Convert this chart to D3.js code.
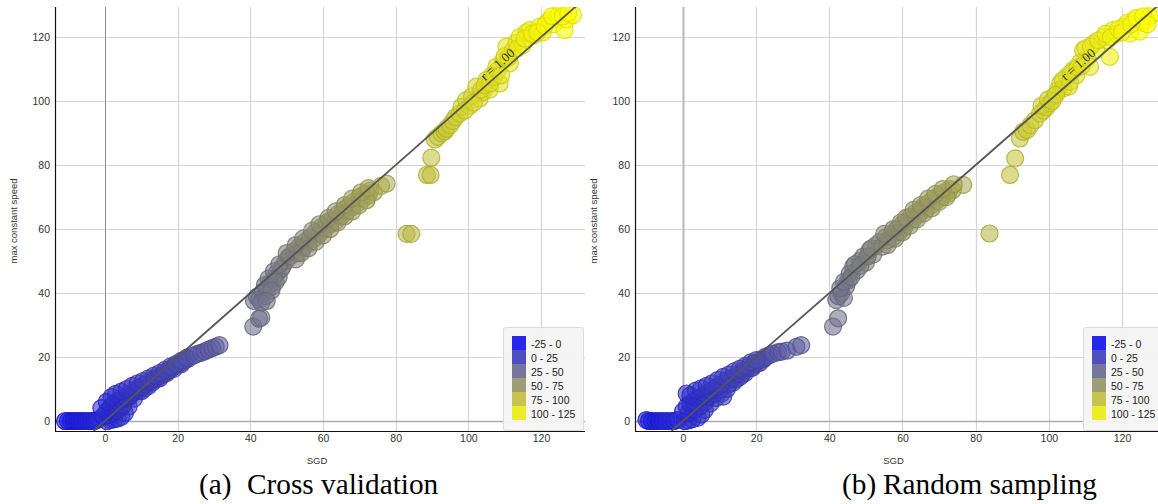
<!DOCTYPE html>
<html>
<head>
<meta charset="utf-8">
<script src="https://cdn.jsdelivr.net/npm/d3@7"></script>
<style>
  html, body { margin: 0; padding: 0; background: #fff; }
  svg { display: block; }
</style>
</head>
<body>
<svg id="chart" width="1158" height="504"></svg>
<script>
// ---- data: [SGD, max constant speed] ----
const cvPoints = [
  [-11,0],[-10.2,0],[-9.4,0],[-8.6,0],[-7.8,0],[-7,0],[-6.2,0],[-5.4,0],[-4.6,0],[-3.8,0],[-3,0],[-2.2,0.3],
  [0.5,0],[1.5,0.3],[2.5,0.5],[3.5,0.8],[4.5,1.3],[5.5,2.5],[6.5,4.5],[8,7],[10,9.3],[12,11],[14,13],[16,14.5],[18,16.2],[20,17.6],[22,19],
  [1,1.8],[2,2.5],[3,3.2],[4,4],[5,5],[6,7],[7,7.8],[8,9],[9.5,9.5],[11,10.3],[13,12],[15,13.3],[17,15],[19,16.3],[21,17.8],
  [-0.5,1.5],[0.5,3],[1.5,4.3],[2.5,5.5],[3.5,6.2],[4.5,6.8],[5.5,7.5],[7,8.6],[8.5,9.8],[9.5,10.5],[11,11.5],[12.5,12.5],[13.5,13.2],[15,14],[16.5,15.2],[17.5,15.8],[19,17],[21,18.3],[23,19.5],
  [-1,4],[0.5,6],[1.8,7.5],[3,8.5],[4.5,9.2],[6,10],[7.5,11],[9,11.8],[10.5,12.5],[12,13.3],[13.5,14.2],[15,15],[16.5,16],[18,17],[19.5,17.8],[21,18.8],[22.5,19.8],
  [24.5,20.5],[25.5,21],[26.5,21.3],[27.5,21.8],[28.5,22.3],[29.5,22.8],[30.5,23.2],[31.5,23.7],
  [40.8,29.5],[42.4,32],[43,32.3],[41,37.5],[41.8,38.8],[42.5,38],[43.5,40.5],[44.2,39],[44.8,41.5],[45.5,43],[46,42],[46.5,44.5],[47.3,46.2],[47.8,45],[48.5,47.5],[49,48.5],[49.8,50],[50.5,51.2],
  [43,37],[44,42.5],[45,44.5],[46.5,46.8],[47,43.5],[48,49],[45.8,40.8],[44.5,37.5],
  [51,51.5],[52,53],[53,52.5],[53.5,54.5],[54.5,54],[55,56],[56,55.5],[56.5,57.5],[57.5,57],[58,59],[59,58.5],[59.5,60.5],[60.5,60],[61,62],[62,61.5],[62.5,63],[63.5,62.5],[64,64.5],[65,64],[65.5,66],[66.5,65.5],[67,67.2],[68,66.8],[68.5,68.5],[69.5,68],[70,70],[71,69.5],[71.5,71],[72.5,70.5],[73,72],[74,71.5],
  [52.5,50.5],[54,52.5],[56,54],[58,56],[60,58],[62,60],[64,62],[66,64],[68,65.5],[70,67.5],[72,69],
  [50,52.5],[52.5,55],[54.5,57],[57,59.5],[59,61.5],[61.5,63.5],[63.5,65.5],[66,67.5],[68,69.5],[70.5,71.5],[72.5,72.8],
  [76,73.5],[77.5,74.2],
  [83,58.5],[84.3,58.5],[88.6,76.9],[89.6,76.9],[89.8,82.3],[90.8,88],[91.6,88.8],[92.6,89.9],[93.5,90.5],[94,91.4],[95,92.5],[95.8,93.8],[96.5,95],[97.6,96.1],[98.1,98.2],[99.4,100.3],[100.4,98.5],[101,101.5],[102.2,104.5],[103.1,100.8],[104,102.8],[105,106.6],[105.9,103.6],[106.5,108],[107.7,110.7],[108.6,105.5],[109.5,112.5],[110.5,117],[111.4,111.8],[112.3,115.9],[113.2,118.2],[114.1,120],[115,117.5],[116,121.5],[116.9,122.2],[118,120.5],[119.6,123.2],[120.5,121.5],[121.5,124.5],[122.4,125.3],[123.5,124],[124.5,126.5],[125,127.4],[126.5,122.2],[127,125.5],[128.8,126.9],
  [99,97],[101.5,99.5],[103.5,103.5],[104.5,105],[106,105.5],[107,107.5],[108,109.5],[109,108],[110,114],[111,113.5],[113.5,116.5],[115.5,119.5],[117.5,121],[119,121.5],[121,123.5],[123,126.5],[126,126.5],[127.5,127.5]
];

const rsPoints = [
  [-10,0.3],[-9.3,0],[-8.5,0],[-7.5,0],[-6.5,0],[-5.5,0],[-4.5,0],[-3.5,0],[-2.5,0],[-1.5,0.3],
  [0.5,0],[1.5,0.2],[2.5,0.5],[4,1],[5,2],[6,3.5],[7.5,5.5],[9,7.2],[10.5,8.5],[11,7.6],[12,10],[13.7,12],[15.5,13.7],[17,15],[18.5,16.5],[20,17.8],[22,19.3],[23.5,20.5],
  [1.5,2.5],[3,3.5],[4.5,4.5],[6,6],[7,7.5],[8.5,8.5],[10,9.8],[12.5,11.5],[14.5,13],[16,14.5],[19,16.7],[21,18.2],
  [0,3],[1,4.5],[2,5.5],[3,6],[4,7],[5,7.5],[6,8.5],[7.5,9.5],[9,10.5],[10.5,11.5],[12,12.8],[13.5,13.5],[15,14.8],[16.5,15.8],[18,17],[19.5,18],[21,19],[22.5,20],
  [1,8.6],[2,8],[3.5,9.5],[5,10.2],[6.5,11],[8,11.8],[9.5,12.8],[11,13.8],[12.5,14.5],[14,15.5],[15.5,16.3],[17,17.2],[18.5,18.3],[20,19],
  [24.6,21],[26,21.5],[27,21.7],[28.5,22],[31,23.2],[32.3,23.7],
  [41,29.5],[42.4,32.1],[41.9,37.8],[42.5,39],[43.3,40],[44,38.5],[44.6,42.1],[45.2,44],[45.6,46.1],[46.5,48.2],[47.5,47],[48.3,50],[49.3,51.4],[50,49.5],[51,53.4],[52,52],[52.8,55],[53.8,56],
  [43,41.5],[44,43.5],[46,45],[47,49],[48.5,48.5],[50.5,51.5],[51.5,54],
  [54.5,54.5],[55.5,57.5],[56,56.5],[57,58.5],[57.5,57.5],[58.5,60],[59,59],[60,61.5],[60.5,60.5],[61.5,62.5],[62,63.8],[63,63],[63.5,65],[64.5,64.5],[65,66],[65.6,66.9],[66.5,66],[67,68],[68,67.5],[68.5,69.5],[69.5,69],[70,70.5],[71,70],[71.5,71.5],[72.5,71],[73,72.5],[73.8,72.2],[76.6,73.8],
  [56,55],[58,57],[60,59],[62,61],[64,63],[66,65],[68,66.5],[70,68.5],[72,70],
  [55,58.5],[57.5,60],[59.5,62],[61,63.5],[63,66],[65,67.5],[67,69.5],[69,71],[71,72.5],[74,74],
  [83.8,58.6],[89.4,76.9],[90.8,82.1],[92.1,88.3],[93,90.4],[94,90.9],[95,92.5],[96.2,94],[97.6,96.1],[98.5,97],[99.3,98],[100.3,99.3],[101.5,101.5],[102.5,103.5],[103.1,105.5],[104,104],[104.9,107.6],[105.5,104.5],[106.7,109.7],[107.5,108],[108.5,112],[109.4,115.9],[110.5,113.5],[111.3,110.7],[112.2,118],[113,116],[114.9,120],[116,119],[116.7,113.8],[117.6,122.2],[118.5,121],[120.4,123.2],[121.5,124.5],[122.2,121.1],[123.5,125.5],[124.9,121.7],[125.5,124.5],[126.8,125.3],[127.5,126.5],[128.6,127.4],
  [98,98.5],[99.8,100.5],[101,100],[102,102],[103.8,106.5],[105.8,106],[106,108.8],[107.8,110.5],[109,111],[110,116.5],[111.5,117],[113.5,119],[115.5,121],[117,120],[119,122.5],[120,121.5],[122.5,124],[124,126],[125.8,126.5],[127,124]
];

const xTicks = [0, 20, 40, 60, 80, 100, 120];
const yTicks = [0, 20, 40, 60, 80, 100, 120];
const legendLabels = ["-25 - 0", "0 - 25", "25 - 50", "50 - 75", "75 - 100", "100 - 125"];
const legendMids = [-12.5, 12.5, 37.5, 62.5, 87.5, 112.5];
const fitSlope = [1.0, 1.0];
const fitIntercept = [0.0, 0.0];
const fitLabels = ["r = 1.00", "r = 1.00"];
const captionTags = ["(a)", "(b)"];
const captionTitles = ["Cross validation", "Random sampling"];

// ---- layout ----
const svg = d3.select("#chart");
const plotTop = 7, plotBottom = 431;
const yDomain = [-3.125, 129.4];
const panels = [
  { points: cvPoints, left: 55, right: 585, xDomain: [-13.76, 132.1],
    legendX: 503, tagX: 199, titleX: 247, zeroColor: "#8c8c8c", zeroWidth: 1 },
  { points: rsPoints, left: 635, right: 1158, xDomain: [-13.12, 129.85],
    legendX: 1083, tagX: 842, titleX: 883, zeroColor: "#b8b8b8", zeroWidth: 2 }
];

// SGD value drives the blue -> yellow palette
const color = d3.scaleLinear().domain([-25, 125]).range(["#0000ff", "#ffff00"]).interpolate(d3.interpolateRgb);

const sansFont = "'Liberation Sans', Arial, sans-serif";
const serifFont = "'Liberation Serif', 'Times New Roman', serif";

panels.forEach((p, i) => {
  const x = d3.scaleLinear().domain(p.xDomain).range([p.left, p.right]);
  const y = d3.scaleLinear().domain(yDomain).range([plotBottom, plotTop]);
  const g = svg.append("g");

  const clipId = "clip" + i;
  g.append("clipPath").attr("id", clipId)
    .append("rect").attr("x", p.left).attr("y", plotTop)
    .attr("width", p.right - p.left).attr("height", plotBottom - plotTop);

  // grid
  const grid = g.append("g");
  grid.selectAll("line.v").data(xTicks.filter(t => t !== 0)).join("line")
    .attr("x1", d => Math.round(x(d)) + 0.5).attr("x2", d => Math.round(x(d)) + 0.5)
    .attr("y1", plotTop).attr("y2", plotBottom)
    .attr("stroke", "#d6d6d6").attr("stroke-width", 1.2);
  grid.selectAll("line.h").data(yTicks.filter(t => t !== 0)).join("line")
    .attr("x1", p.left).attr("x2", p.right)
    .attr("y1", d => Math.round(y(d)) + 0.5).attr("y2", d => Math.round(y(d)) + 0.5)
    .attr("stroke", "#d6d6d6").attr("stroke-width", 1.2);
  // zero lines
  grid.append("line")
    .attr("x1", Math.round(x(0)) + 0.5).attr("x2", Math.round(x(0)) + 0.5)
    .attr("y1", plotTop).attr("y2", plotBottom)
    .attr("stroke", p.zeroColor).attr("stroke-width", p.zeroWidth);
  grid.append("line")
    .attr("x1", p.left).attr("x2", p.right)
    .attr("y1", Math.round(y(0)) + 0.5).attr("y2", Math.round(y(0)) + 0.5)
    .attr("stroke", "#ababab").attr("stroke-width", 1.5);

  // points
  g.append("g").attr("clip-path", `url(#${clipId})`)
    .selectAll("circle").data(p.points).join("circle")
    .attr("cx", d => x(d[0])).attr("cy", d => y(d[1])).attr("r", 8.5)
    .attr("fill", d => color(d[0])).attr("fill-opacity", 0.58)
    .attr("stroke", d => d3.color(color(d[0])).darker(0.35)).attr("stroke-opacity", 0.85)
    .attr("stroke-width", 1.2);

  // regression line
  const x0 = (yDomain[0] - fitIntercept[i]) / fitSlope[i];
  const x1 = p.xDomain[1];
  g.append("g").attr("clip-path", `url(#${clipId})`)
    .append("line")
    .attr("x1", x(x0)).attr("y1", y(fitSlope[i] * x0 + fitIntercept[i]))
    .attr("x2", x(x1)).attr("y2", y(fitSlope[i] * x1 + fitIntercept[i]))
    .attr("stroke", "#555").attr("stroke-width", 1.8);

  // correlation label along the line
  const lx = 109.5;
  const px = x(lx), py = y(fitSlope[i] * lx + fitIntercept[i]);
  const dx = x(lx + 10) - px, dy = y(fitSlope[i] * (lx + 10) + fitIntercept[i]) - py;
  const ang = Math.atan2(dy, dx) * 180 / Math.PI;
  g.append("text")
    .attr("transform", `translate(${px},${py}) rotate(${ang}) translate(0,-8.5)`)
    .attr("text-anchor", "middle").attr("dominant-baseline", "central")
    .attr("font-family", serifFont).attr("font-size", 13).attr("fill", "#333")
    .text(fitLabels[i]);

  // axes
  const yAxis = g.append("g").attr("transform", `translate(${p.left},0)`)
    .call(d3.axisLeft(y).tickValues(yTicks).tickSize(0).tickPadding(5));
  yAxis.select(".domain").remove();
  yAxis.selectAll("text").attr("font-family", sansFont).attr("font-size", 10.5).attr("fill", "#333");

  const xAxis = g.append("g").attr("transform", `translate(0,${plotBottom})`)
    .call(d3.axisBottom(x).tickValues(xTicks).tickSize(0).tickPadding(4));
  xAxis.select(".domain").remove();
  xAxis.selectAll("text").attr("font-family", sansFont).attr("font-size", 10.5).attr("fill", "#333");

  g.append("line").attr("x1", p.left + 0.5).attr("x2", p.left + 0.5)
    .attr("y1", plotTop).attr("y2", plotBottom + 0.5).attr("stroke", "#111").attr("stroke-width", 1.2);
  g.append("line").attr("x1", p.left).attr("x2", p.right)
    .attr("y1", plotBottom + 0.5).attr("y2", plotBottom + 0.5).attr("stroke", "#111").attr("stroke-width", 1.2);

  // axis titles
  g.append("text")
    .attr("transform", `translate(${p.left - 42},${221}) rotate(-90)`)
    .attr("text-anchor", "middle").attr("dominant-baseline", "central")
    .attr("font-family", sansFont).attr("font-size", 9.5).attr("fill", "#333")
    .text("max constant speed");
  g.append("text")
    .attr("x", (p.left + p.right) / 2 - 3).attr("y", 460)
    .attr("text-anchor", "middle").attr("dominant-baseline", "central")
    .attr("font-family", sansFont).attr("font-size", 9.5).attr("fill", "#333")
    .text("SGD");

  // legend
  const lg = g.append("g").attr("transform", `translate(${p.legendX},327)`);
  lg.append("rect").attr("x", 0.5).attr("y", 0.5).attr("width", 80).attr("height", 103).attr("rx", 2)
    .attr("fill", "#f4f4f4").attr("fill-opacity", 0.95).attr("stroke", "#dcdcdc");
  const rows = lg.selectAll("g.row").data(legendLabels).join("g")
    .attr("transform", (d, k) => `translate(9,${9 + k * 14})`);
  rows.append("rect").attr("width", 14).attr("height", 14)
    .attr("fill", (d, k) => color(legendMids[k])).attr("fill-opacity", 0.92);
  rows.append("text").attr("x", 19).attr("y", 7.5).attr("dominant-baseline", "central")
    .attr("font-family", sansFont).attr("font-size", 10.5).attr("fill", "#222")
    .text(d => d);

  // caption
  g.append("text").attr("x", p.tagX).attr("y", 494)
    .attr("font-family", serifFont).attr("font-size", 29.3).attr("fill", "#000")
    .text(captionTags[i]);
  g.append("text").attr("x", p.titleX).attr("y", 494)
    .attr("font-family", serifFont).attr("font-size", 29.3).attr("fill", "#000")
    .text(captionTitles[i]);
});
</script>
</body>
</html>
